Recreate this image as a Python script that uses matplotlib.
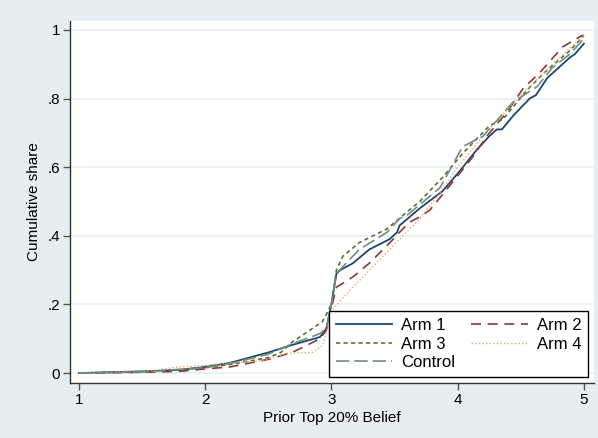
import matplotlib
matplotlib.use("Agg")
import matplotlib.pyplot as plt

plt.rcParams['font.family'] = ['Liberation Sans', 'DejaVu Sans']

arm1_x = [1.0, 1.5, 1.8, 2.0, 2.2, 2.5, 2.69, 2.91, 2.96, 3.0, 3.04, 3.07, 3.17, 3.30, 3.46,
          3.52, 3.54, 3.70, 3.88, 4.02, 4.15, 4.25, 4.31, 4.35, 4.44, 4.57, 4.62, 4.71, 4.89, 4.93, 5.0]
arm1_y = [0.0, 0.005, 0.009, 0.018, 0.03, 0.06, 0.082, 0.105, 0.13, 0.20, 0.29, 0.30, 0.32, 0.36, 0.39,
          0.41, 0.43, 0.48, 0.53, 0.59, 0.65, 0.69, 0.71, 0.71, 0.75, 0.80, 0.81, 0.86, 0.92, 0.93, 0.96]

arm2_x = [1.0, 1.5, 1.8, 2.0, 2.2, 2.5, 2.69, 2.91, 2.96, 3.0, 3.04, 3.17, 3.30, 3.49, 3.54,
          3.62, 3.70, 3.78, 3.99, 4.12, 4.23, 4.39, 4.52, 4.65, 4.83, 4.99]
arm2_y = [0.0, 0.002, 0.005, 0.012, 0.018, 0.04, 0.06, 0.10, 0.125, 0.19, 0.25, 0.28, 0.32, 0.39, 0.41,
          0.44, 0.455, 0.475, 0.57, 0.63, 0.69, 0.76, 0.83, 0.875, 0.95, 0.985]

arm3_x = [1.0, 1.5, 2.0, 2.2, 2.5, 2.6, 2.69, 2.85, 2.93, 3.0, 3.04, 3.09, 3.22, 3.44, 3.60,
          3.70, 3.88, 4.04, 4.25, 4.36, 4.55, 4.70, 4.89, 5.0]
arm3_y = [0.0, 0.003, 0.015, 0.025, 0.045, 0.06, 0.09, 0.13, 0.15, 0.20, 0.30, 0.34, 0.38, 0.42, 0.47,
          0.50, 0.57, 0.64, 0.72, 0.74, 0.825, 0.88, 0.94, 0.985]

arm4_x = [1.0, 1.5, 1.8, 2.0, 2.2, 2.45, 2.65, 2.85, 2.93, 2.97, 3.0, 3.07, 3.17, 3.33, 3.54,
          3.70, 3.85, 4.0, 4.2, 4.5, 4.75, 5.0]
arm4_y = [0.0, 0.004, 0.018, 0.022, 0.03, 0.035, 0.058, 0.06, 0.08, 0.13, 0.18, 0.21, 0.25, 0.31, 0.39,
          0.45, 0.52, 0.60, 0.69, 0.81, 0.90, 0.985]

control_x = [1.0, 1.5, 2.0, 2.2, 2.5, 2.69, 2.91, 2.96, 3.0, 3.04, 3.22, 3.44, 3.54, 3.60, 3.86,
             4.04, 4.20, 4.44, 4.63, 4.75, 4.89, 5.0]
control_y = [0.0, 0.003, 0.016, 0.028, 0.055, 0.085, 0.115, 0.13, 0.20, 0.29, 0.36, 0.41, 0.45, 0.46, 0.54,
             0.66, 0.69, 0.79, 0.835, 0.89, 0.93, 0.975]

x_ticks = [1, 2, 3, 4, 5]
y_ticks = [0, 0.2, 0.4, 0.6, 0.8, 1.0]
y_tick_labels = ['0', '.2', '.4', '.6', '.8', '1']

bg = '#E6EEF1'
fig = plt.figure(figsize=(5.98, 4.38), dpi=100)
fig.patch.set_facecolor(bg)

ax = fig.add_axes([70 / 598, 55 / 438, 524 / 598, 362 / 438])
ax.set_facecolor('white')

l1, = ax.plot(arm1_x, arm1_y, color='#1A476F', lw=1.3, label='Arm 1')
l2, = ax.plot(arm2_x, arm2_y, color='#90353B', lw=1.2, dashes=(6, 4), label='Arm 2')
l3, = ax.plot(arm3_x, arm3_y, color='#55752F', lw=1.2, dashes=(2.5, 2), label='Arm 3')
l4, = ax.plot(arm4_x, arm4_y, color='#F0A868', lw=1.0, dashes=(1, 1.6), label='Arm 4')
l5, = ax.plot(control_x, control_y, color='#6E8E84', lw=1.2, dashes=(8, 3), label='Control')

ax.set_xlim(0.93, 5.08)
ax.set_ylim(-0.029, 1.026)
ax.set_xticks(x_ticks)
ax.set_yticks(y_ticks)
ax.set_yticklabels(y_tick_labels)
ax.grid(axis='y', color='#E8F0F2', lw=1.2)
ax.set_axisbelow(True)
for s in ['top', 'right']:
    ax.spines[s].set_visible(False)
for s in ['left', 'bottom']:
    ax.spines[s].set_color('#333333')
    ax.spines[s].set_linewidth(1)
ax.tick_params(direction='out', length=5, width=1, color='#555555', labelsize=11, pad=2)

ax.set_ylabel('Cumulative share', fontsize=11, labelpad=5)
ax.set_xlabel('Prior Top 20% Belief', fontsize=11, labelpad=3)

leg = ax.legend([l1, l3, l5, l2, l4], ['Arm 1', 'Arm 3', 'Control', 'Arm 2', 'Arm 4'],
                ncol=2, loc='lower left', bbox_to_anchor=(0.494, 0.0166, 0.495, 0.19), mode='expand',
                borderaxespad=0, fontsize=12, handlelength=3.4, handletextpad=0.55, columnspacing=1.5,
                labelspacing=0.22, borderpad=0.4, fancybox=False, framealpha=1, edgecolor='black')
leg.get_frame().set_linewidth(1)

fig.savefig('out.png', dpi=100, facecolor=fig.get_facecolor())
